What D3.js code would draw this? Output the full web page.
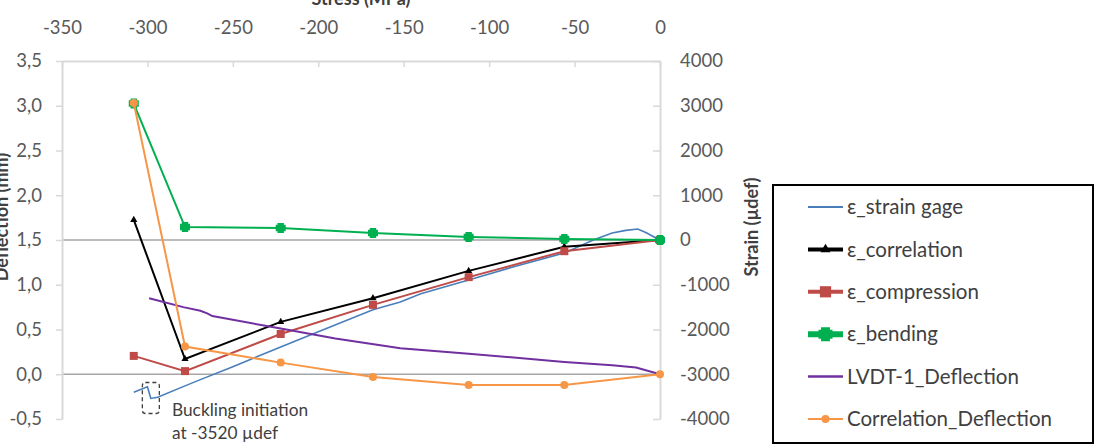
<!DOCTYPE html>
<html>
<head>
<meta charset="utf-8">
<script src="https://cdn.jsdelivr.net/npm/d3@7"></script>
<style>
  body { margin: 0; background: #fff; }
  svg { display: block; font-family: Lato, "Open Sans", sans-serif; }
</style>
</head>
<body>
<svg width="1096" height="445"></svg>
<script>
// stress (MPa) at each load step
const stressSteps = [-308, -278, -222, -168, -112, -56, 0];
const epsCorrelation = [450, -2660, -1830, -1300, -690, -150, 0];
const epsCompression = [-2590, -2930, -2100, -1450, -830, -250, 0];
const epsBending = [3050, 290, 268, 156, 67, 22, 0];
const corrDeflection = [3.03, 0.31, 0.13, -0.03, -0.12, -0.12, 0];

// continuous strain gage record
const gageStress = [-308, -300, -298, -294, -278, -269, -250, -222, -200, -168, -152, -140, -112, -85, -56, -39, -28, -20, -13, -8, -4, 0];
const gageStrain = [-3400, -3280, -3540, -3515, -3260, -3120, -2830, -2390, -2050, -1560, -1385, -1200, -894, -590, -290, 0, 156, 215, 246, 160, 80, 0];

// LVDT-1 deflection record
const lvdtStress = [-299, -279, -269, -265, -262, -222, -190, -152, -112, -56, -28, -14, 0];
const lvdtDefl = [0.85, 0.75, 0.71, 0.68, 0.65, 0.51, 0.40, 0.29, 0.23, 0.137, 0.10, 0.075, 0];

const stressTicks = [-350, -300, -250, -200, -150, -100, -50, 0];
const deflTicks = [-0.5, 0, 0.5, 1, 1.5, 2, 2.5, 3, 3.5];
const strainTicks = [-4000, -3000, -2000, -1000, 0, 1000, 2000, 3000, 4000];

const legendNames = ["ε_strain gage", "ε_correlation", "ε_compression", "ε_bending", "LVDT-1_Deflection", "Correlation_Deflection"];
const colors = ["#4a7ebb", "#000000", "#be4b48", "#00b050", "#7030a0", "#f79646"];

const svg = d3.select("svg");
const x = d3.scaleLinear().domain([-350, 0]).range([62, 660]);
const yL = d3.scaleLinear().domain([-0.5, 3.5]).range([419, 61]);
const yR = d3.scaleLinear().domain([-4000, 4000]).range([419, 61]);

const axisCol = "#d9d9d9", labCol = "#595959";

// zero lines
svg.append("line").attr("x1", 62).attr("x2", 660).attr("y1", yR(0)).attr("y2", yR(0))
    .attr("stroke", "#a6a6a6").attr("stroke-width", 1.5);
svg.append("line").attr("x1", 62).attr("x2", 660).attr("y1", yL(0)).attr("y2", yL(0))
    .attr("stroke", "#a6a6a6").attr("stroke-width", 1.5);

const styleAxis = g => {
    g.select(".domain").attr("stroke", axisCol).attr("stroke-width", 2);
    g.selectAll(".tick line").attr("stroke", axisCol).attr("stroke-width", 1.5);
    g.selectAll(".tick text").attr("fill", labCol).style("font-size", "18.5px").style("font-family", "Lato");
};

svg.append("g").attr("transform", `translate(0,${yL(3.5)})`)
    .call(d3.axisTop(x).tickValues(stressTicks).tickSizeInner(-6).tickSizeOuter(0).tickPadding(27)
        .tickFormat(d => String(d)))
    .call(styleAxis);

svg.append("g").attr("transform", `translate(${x(-350)},0)`)
    .call(d3.axisLeft(yL).tickValues(deflTicks).tickSizeInner(6).tickSizeOuter(0).tickPadding(14)
        .tickFormat(d => d.toFixed(1).replace(".", ",")))
    .call(styleAxis);

svg.append("g").attr("transform", `translate(${x(0)},0)`)
    .call(d3.axisRight(yR).tickValues(strainTicks).tickSizeInner(-7).tickSizeOuter(0).tickPadding(20)
        .tickFormat(d => String(d)))
    .call(styleAxis);

// axis titles
svg.append("text").attr("x", 361).attr("y", 5).attr("text-anchor", "middle")
    .attr("font-weight", "bold").attr("font-size", 18).attr("fill", "#404040").text("Stress (MPa)");
svg.append("text").attr("transform", "translate(8,217) rotate(-90)").attr("text-anchor", "middle")
    .attr("font-weight", "bold").attr("font-size", 18).attr("fill", "#404040").text("Deflection (mm)");
svg.append("text").attr("transform", "translate(758,227) rotate(-90)").attr("text-anchor", "middle")
    .attr("font-weight", "bold").attr("font-size", 18).attr("fill", "#404040").text("Strain (µdef)");

// markers
const bendShape = s => {
    const a = s * 0.32, b = s / 2;
    return `M${-a},${-b}H${a}V${-a}H${b}V${a}H${a}V${b}H${-a}V${a}H${-b}V${-a}H${-a}Z`;
};
const marker = (g, i, cx, cy, k) => {
    if (i === 1) g.append("path").attr("d", d3.symbol(d3.symbolTriangle, 22 * k * k)())
        .attr("transform", `translate(${cx},${cy})`).attr("fill", colors[i]);
    if (i === 2) g.append("rect").attr("x", cx - 4 * k).attr("y", cy - 4 * k).attr("width", 8 * k).attr("height", 8 * k)
        .attr("fill", colors[i]);
    if (i === 3) g.append("path").attr("d", bendShape(10 * k)).attr("transform", `translate(${cx},${cy})`)
        .attr("fill", colors[i]);
    if (i === 5) g.append("circle").attr("cx", cx).attr("cy", cy).attr("r", 4 * k).attr("fill", colors[i]);
};

const line = d3.line();
const plot = svg.append("g");

// strain gage
plot.append("path").attr("d", line(gageStress.map((s, j) => [x(s), yR(gageStrain[j])])))
    .attr("fill", "none").attr("stroke", colors[0]).attr("stroke-width", 1.6);

const stepSeries = [
    [1, epsCorrelation, yR],
    [2, epsCompression, yR],
    [3, epsBending, yR]
];
stepSeries.forEach(([i, vals, y]) => {
    plot.append("path").attr("d", line(stressSteps.map((s, j) => [x(s), y(vals[j])])))
        .attr("fill", "none").attr("stroke", colors[i]).attr("stroke-width", 2);
    stressSteps.forEach((s, j) => marker(plot, i, x(s), y(vals[j]), 1));
});

// LVDT
plot.append("path").attr("d", line(lvdtStress.map((s, j) => [x(s), yL(lvdtDefl[j])])))
    .attr("fill", "none").attr("stroke", colors[4]).attr("stroke-width", 2);

// correlation deflection
plot.append("path").attr("d", line(stressSteps.map((s, j) => [x(s), yL(corrDeflection[j])])))
    .attr("fill", "none").attr("stroke", colors[5]).attr("stroke-width", 2);
stressSteps.forEach((s, j) => marker(plot, 5, x(s), yL(corrDeflection[j]), 1));

// buckling annotation
const bx = x(-298), by = yR(-3520);
svg.append("rect").attr("x", bx - 8.5).attr("y", by - 15).attr("width", 17).attr("height", 31).attr("rx", 3)
    .attr("fill", "none").attr("stroke", "#404040").attr("stroke-width", 1.3).attr("stroke-dasharray", "4,3");
svg.append("text").attr("x", 172).attr("y", 416).attr("font-size", 17.3).attr("fill", "#404040").text("Buckling initiation");
svg.append("text").attr("x", 172).attr("y", 439).attr("font-size", 17.3).attr("fill", "#404040").text("at -3520 µdef");

// legend
const lg = svg.append("g");
lg.append("rect").attr("x", 773).attr("y", 185).attr("width", 320).attr("height", 258)
    .attr("fill", "#fff").attr("stroke", "#000").attr("stroke-width", 2);
const legW = [2, 4, 4, 6, 2.5, 2];
legendNames.forEach((name, i) => {
    const cy = 207 + i * 42.4;
    lg.append("line").attr("x1", 808).attr("x2", 843).attr("y1", cy).attr("y2", cy)
        .attr("stroke", colors[i]).attr("stroke-width", legW[i]);
    marker(lg, i, 825.5, cy, i === 5 ? 1 : 1.4);
    lg.append("text").attr("x", 847).attr("y", cy).attr("dy", "0.35em").attr("font-size", 20.5)
        .attr("fill", "#404040").text(name);
});
</script>
</body>
</html>
